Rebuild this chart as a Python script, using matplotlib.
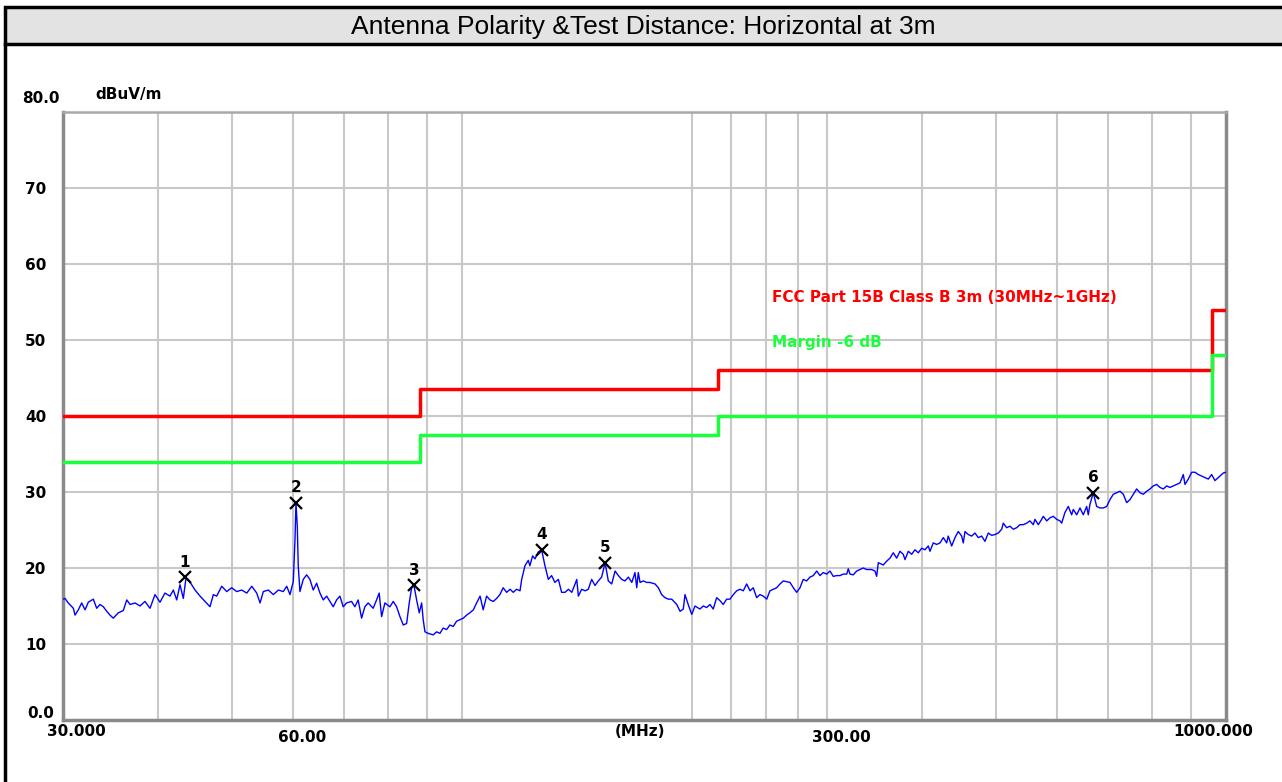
import matplotlib
matplotlib.use('Agg')
import matplotlib.pyplot as plt
import matplotlib.transforms as mtransforms
from matplotlib.patches import Rectangle
from matplotlib.lines import Line2D
from matplotlib.ticker import NullLocator

freq_low = [30.00, 30.18, 30.48, 30.95, 31.11, 31.42, 31.74, 32.06, 32.38, 32.87,
            33.21, 33.54, 33.88, 34.23, 34.57, 34.91, 35.44, 35.98, 36.36, 36.72,
            37.28, 37.84, 38.41, 39.00, 39.59, 40.19, 40.80, 41.42, 41.84, 42.27,
            42.69, 43.12, 43.47, 43.77, 44.22, 44.67, 45.35, 46.03, 46.73, 47.20,
            47.68, 48.41, 49.15, 49.89, 50.65, 51.42, 52.21, 53.00, 53.80, 54.34,
            54.88, 55.72, 56.56, 57.42, 58.29, 58.89, 59.48, 59.78, 60.07, 60.38,
            60.56, 60.80, 60.98, 61.29, 61.90, 62.54, 63.16, 63.80, 64.45, 65.10,
            65.75, 66.43, 67.09, 67.76, 68.45, 69.14, 69.83, 70.54, 71.61, 72.33,
            73.05, 73.81, 74.54, 75.29, 76.43, 77.22, 77.83, 78.40, 79.18, 80.39,
            81.20, 82.03, 82.86, 83.69, 84.55, 85.21, 85.83, 86.43, 87.13, 87.82,
            88.46, 88.88, 89.34, 90.23, 91.60, 92.54, 93.47, 94.40, 95.38, 96.33,
            97.30, 98.29, 99.28, 100.3, 101.3, 102.3, 103.4, 104.4, 105.5, 106.5,
            107.6, 108.7, 109.8, 110.9, 112.0]
level_low = [15.9, 16.0, 15.4, 14.7, 13.8, 14.5, 15.4, 14.5, 15.5, 15.9,
             14.7, 15.2, 14.9, 14.3, 13.8, 13.4, 14.1, 14.4, 15.8, 15.2,
             15.4, 15.0, 15.6, 14.7, 16.5, 15.5, 16.7, 16.3, 17.1, 15.8,
             17.8, 16.0, 18.7, 18.5, 17.8, 17.1, 16.3, 15.6, 14.9, 16.5,
             16.3, 17.6, 16.9, 17.4, 16.9, 17.1, 16.7, 17.6, 16.7, 15.4,
             16.9, 17.1, 16.5, 17.1, 16.9, 17.6, 16.5, 17.4, 18.2, 23.7,
             28.6, 25.5, 20.2, 16.9, 18.5, 19.1, 18.5, 17.1, 18.0, 16.7,
             15.8, 16.3, 15.6, 14.9, 15.8, 16.3, 14.9, 15.4, 15.6, 14.9,
             15.8, 13.4, 14.9, 15.4, 14.7, 15.8, 16.7, 13.6, 15.4, 14.9,
             15.6, 14.9, 13.6, 12.5, 12.7, 15.4, 17.4, 17.7, 15.8, 14.1,
             15.4, 13.2, 11.6, 11.4, 11.2, 11.6, 11.4, 12.1, 11.9, 12.5,
             12.3, 13.0, 13.2, 13.4, 13.8, 14.1, 14.5, 15.4, 16.3, 14.5,
             16.3, 15.8, 15.6, 16.0, 16.5]

freq_mid = [113.1, 114.3, 115.5, 116.6, 117.8, 119.0, 119.6, 120.8, 122.0, 122.6,
            123.6, 124.5, 125.7, 127.0, 128.3, 129.6, 130.9, 132.2, 133.6, 134.9,
            136.3, 137.7, 139.1, 140.5, 141.2, 141.9, 143.3, 144.8, 146.2, 147.7,
            149.2, 150.7, 152.2, 153.8, 155.3, 156.9, 158.5, 160.1, 161.7, 163.3,
            165.0, 166.7, 168.3, 169.2, 170.0, 170.9, 172.6, 174.4, 176.1, 178.8,
            180.6, 182.4, 184.2, 186.1, 188.0, 190.9, 192.8, 194.7, 195.7, 197.6,
            199.7, 201.7, 204.7, 206.8, 208.9, 211.0, 213.1, 215.3, 217.5, 219.6,
            221.9, 224.1, 226.4, 228.7, 231.0, 233.3, 235.7, 238.1, 240.4, 242.9,
            245.3, 247.8, 250.4, 252.8, 255.4, 258.0, 260.6, 263.2, 265.9, 268.6,
            271.3, 274.0, 276.8, 279.5, 282.4, 285.2, 288.1, 291.1, 294.0, 296.9,
            300.0, 303.0, 306.0, 309.2, 312.3, 315.4, 318.7, 320.2, 321.8]
level_mid = [17.4, 16.8, 17.2, 16.8, 17.2, 17.0, 18.5, 20.3, 21.0, 20.3,
             21.6, 21.2, 22.1, 22.4, 20.3, 18.5, 19.0, 18.1, 18.5, 16.8,
             16.8, 17.2, 16.8, 17.9, 18.5, 16.3, 17.2, 17.0, 17.2, 18.5,
             17.7, 18.3, 18.8, 20.7, 18.3, 17.9, 19.6, 19.0, 18.5, 18.3,
             18.8, 18.1, 19.4, 17.4, 19.4, 18.1, 18.3, 18.1, 18.1, 17.9,
             17.4, 16.5, 16.1, 15.9, 15.9, 15.2, 14.3, 14.6, 16.5, 15.2,
             13.9, 15.0, 14.6, 15.0, 14.8, 15.2, 14.6, 16.1, 15.7, 15.2,
             15.9, 15.9, 16.5, 17.0, 17.2, 17.0, 17.9, 17.0, 17.4, 16.1,
             16.5, 16.3, 15.9, 17.0, 17.2, 17.4, 17.9, 18.3, 18.2, 18.1,
             17.4, 16.8, 17.4, 18.5, 18.3, 18.8, 19.0, 19.6, 19.0, 19.4,
             19.2, 19.6, 18.9, 19.0, 19.0, 19.2, 19.2, 19.9, 19.2]

freq_high = [325.0, 328.4, 331.7, 335.0, 338.4, 343.6, 347.0, 348.8, 350.5, 355.8,
             359.5, 363.1, 366.7, 370.5, 374.2, 377.9, 379.9, 383.7, 387.6, 391.5,
             395.4, 399.5, 403.5, 407.5, 409.6, 413.7, 418.0, 422.2, 426.4, 430.8,
             432.8, 437.3, 441.7, 446.1, 450.7, 452.9, 455.2, 459.8, 464.5, 469.1,
             473.8, 478.7, 483.5, 488.3, 493.4, 498.3, 503.3, 508.5, 510.9, 516.2,
             521.3, 526.6, 532.0, 537.3, 542.7, 548.3, 553.7, 559.3, 562.2, 567.8,
             573.6, 576.4, 582.4, 588.2, 594.1, 600.2, 606.2, 609.3, 615.3, 621.5,
             627.9, 631.0, 637.5, 643.9, 650.3, 657.0, 660.2, 663.6, 670.2, 677.1,
             683.9, 690.7, 697.9, 704.8, 711.9, 719.2, 726.4, 733.7, 741.2, 748.6,
             756.2, 763.9, 771.6, 779.3, 787.3, 795.2, 803.1, 811.4, 819.5, 827.7,
             836.3, 844.6, 853.1, 861.8, 870.5, 879.2, 883.7, 892.5, 901.7, 910.7,
             919.8, 929.3, 938.6, 948.0, 957.7, 967.3, 977.0, 991.9, 1000.0]
level_high = [19.1, 19.6, 19.8, 20.0, 19.8, 19.8, 19.6, 18.9, 20.7, 20.4,
              20.9, 21.3, 22.0, 21.3, 22.2, 21.8, 21.1, 22.2, 21.8, 22.4,
              22.0, 22.6, 22.4, 22.9, 22.2, 23.3, 23.1, 23.3, 24.0, 23.3,
              24.2, 22.9, 24.0, 24.8, 24.2, 23.3, 24.8, 24.4, 24.2, 24.6,
              24.0, 24.2, 23.5, 24.6, 24.3, 24.4, 24.6, 25.1, 25.9, 25.3,
              25.5, 25.1, 25.3, 25.7, 25.7, 25.9, 26.2, 25.7, 26.4, 25.7,
              26.4, 26.8, 26.2, 26.6, 26.8, 26.4, 26.2, 25.9, 27.3, 28.1,
              27.0, 27.7, 27.0, 27.9, 27.0, 28.1, 27.0, 28.4, 29.9, 28.1,
              27.9, 27.9, 28.1, 29.0, 29.7, 29.9, 30.1, 29.7, 28.6, 29.0,
              29.7, 30.4, 29.9, 29.7, 30.1, 30.4, 30.8, 31.0, 30.6, 30.4,
              30.8, 30.6, 30.8, 31.0, 31.2, 32.3, 31.0, 31.7, 32.6, 32.6,
              32.3, 32.1, 31.9, 31.7, 32.3, 31.5, 31.9, 32.5, 32.6]

# FCC Part 15B class B 3m limit and the -6 dB margin line
limit_freq = [30, 88, 216, 960, 1000]
limit_level = [40, 43.5, 46, 54, 54]
margin_level = [34, 37.5, 40, 48, 48]

# peak markers
marker_freq = [43.3, 60.56, 86.43, 127.0, 153.8, 670.2]
marker_level = [18.8, 28.6, 17.7, 22.4, 20.7, 29.9]

# grid and labels
grid_freq = [40, 50, 60, 70, 80, 90, 100, 200, 225, 250, 275, 300,
             400, 500, 600, 700, 800, 900]
grid_level = [10, 20, 30, 40, 50, 60, 70]
y_labels = ['80.0', '70', '60', '50', '40', '30', '20', '10', '0.0']
y_label_vals = [80, 70, 60, 50, 40, 30, 20, 10, 0]
x_labels = ['30.000', '60.00', '300.00', '1000.000']
x_label_vals = [30, 60, 300, 1000]

freq = freq_low + freq_mid + freq_high
level = level_low + level_mid + level_high
assert len(freq) == len(level)

W, H = 1282, 782
fig = plt.figure(figsize=(W / 100, H / 100), dpi=100)
fig.patch.set_facecolor('white')

lab_font = 'DejaVu Sans'

# title bar and left frame line
fig.patches.append(Rectangle((5 / W, 1 - 44 / H), 1.0, 37 / H, transform=fig.transFigure,
                             facecolor='#e3e3e3', edgecolor='black', linewidth=2.5))
fig.lines.append(Line2D([5 / W, 5 / W], [0, 1 - 44 / H], transform=fig.transFigure,
                        color='black', linewidth=2.5))
fig.text(643 / W, 1 - 27 / H, 'Antenna Polarity &Test Distance: Horizontal at 3m',
         ha='center', va='center', fontsize=19, family='Liberation Sans')

ax = fig.add_axes([63 / W, 1 - 720 / H, (1226 - 63) / W, (720 - 112) / H])
ax.set_xscale('log')
ax.set_xlim(30, 1000)
ax.set_ylim(0, 80)
ax.xaxis.set_major_locator(NullLocator())
ax.xaxis.set_minor_locator(NullLocator())
ax.yaxis.set_major_locator(NullLocator())
for side in ['left', 'bottom', 'right']:
    ax.spines[side].set_color('#8a8a8a')
    ax.spines[side].set_linewidth(2.5)
ax.spines['top'].set_color('#a8a8a8')
ax.spines['top'].set_linewidth(1.8)

ax.vlines(grid_freq, 0, 80, color='#c8c8c8', linewidth=1.5, zorder=1)
ax.hlines(grid_level, 30, 1000, color='#c8c8c8', linewidth=1.5, zorder=1)

ax.plot(limit_freq, limit_level, drawstyle='steps-post', color='#ff0000', linewidth=2.5, zorder=3)
ax.plot(limit_freq, margin_level, drawstyle='steps-post', color='#1aff3c', linewidth=2.5, zorder=3)
ax.plot(freq, level, color='#0000ff', linewidth=1.0, zorder=4)

ax.plot(marker_freq, marker_level, 'x', color='black', markersize=9, markeredgewidth=1.6, zorder=5)
for i, (f, l) in enumerate(zip(marker_freq, marker_level)):
    ax.annotate(str(i + 1), (f, l), xytext=(0, 15), textcoords='offset pixels',
                ha='center', va='center', fontsize=11, fontweight='bold', family=lab_font)

# y labels
ytr = mtransforms.blended_transform_factory(fig.transFigure, ax.transData)
for lab, v in zip(y_labels, y_label_vals):
    if lab == '80.0':
        fig.text(22 / W, 81.8, lab, transform=ytr, ha='left', va='center',
                 fontsize=11, fontweight='bold', family=lab_font)
    elif lab == '0.0':
        fig.text(27 / W, 0.8, lab, transform=ytr, ha='left', va='center',
                 fontsize=11, fontweight='bold', family=lab_font)
    else:
        fig.text(25 / W, v - 0.2, lab, transform=ytr, ha='left', va='center',
                 fontsize=11, fontweight='bold', family=lab_font)
fig.text(95 / W, 1 - 95 / H, 'dBuV/m', ha='left', va='center',
         fontsize=11, fontweight='bold', family=lab_font)

# x labels
x_offsets = [(13, -11), (9, -17), (15, -17), (-13, -11)]
for lab, v, off in zip(x_labels, x_label_vals, x_offsets):
    ax.annotate(lab, (v, 0), xytext=off, textcoords='offset pixels', annotation_clip=False,
                ha='center', va='center', fontsize=11, fontweight='bold', family=lab_font)
ax.text((640 - 63) / 1163, -11 / 608, '(MHz)', transform=ax.transAxes, ha='center', va='center',
        fontsize=11, fontweight='bold', family=lab_font)

# limit legend text
ax.text((772 - 63) / 1163, (720 - 297) / 608, 'FCC Part 15B Class B 3m (30MHz~1GHz)',
        transform=ax.transAxes, ha='left', va='center', color='#ff0000',
        fontsize=11, fontweight='bold', family=lab_font)
ax.text((772 - 63) / 1163, (720 - 342) / 608, 'Margin -6 dB',
        transform=ax.transAxes, ha='left', va='center', color='#1aff3c',
        fontsize=11, fontweight='bold', family=lab_font)

fig.savefig('out.png', dpi=100)
